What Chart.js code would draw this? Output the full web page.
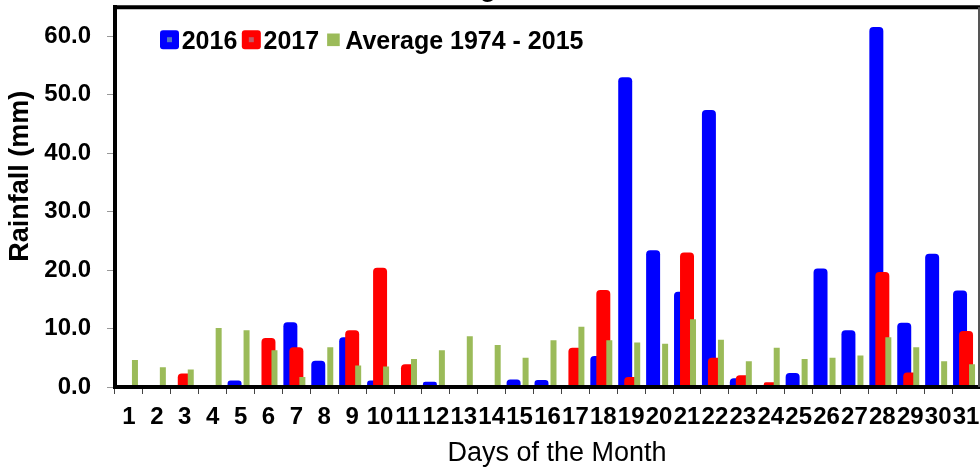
<!DOCTYPE html>
<html>
<head>
<meta charset="utf-8">
<script src="https://cdn.jsdelivr.net/npm/chart.js@4.4.1/dist/chart.umd.min.js"></script>
<style>
  html, body { margin: 0; padding: 0; background: #fff; }
  #frame { position: relative; width: 980px; height: 469px; overflow: hidden; }
  #box { position: absolute; left: 0; top: -26px; width: 980px; height: 495px; }
</style>
</head>
<body>
<div id="frame"><div id="box"><canvas id="chart"></canvas></div></div>
<script>
const days = ['1','2','3','4','5','6','7','8','9','10','11','12','13','14','15','16',
  '17','18','19','20','21','22','23','24','25','26','27','28','29','30','31'];

const rain2016 = [0, 0, 0, 0, 1.1, 0, 11.1, 4.5, 8.5, 1.1, 0, 0.9, 0, 0, 1.3, 1.2,
  0, 5.3, 53.0, 23.4, 16.3, 47.4, 1.5, 0, 2.4, 20.3, 9.7, 61.6, 11.0, 22.8, 16.5];

const rain2017 = [0, 0, 2.3, 0, 0, 8.4, 6.8, 0, 9.7, 20.4, 3.9, 0, 0, 0, 0, 0,
  6.7, 16.6, 1.7, 0, 23.0, 5.0, 2.0, 0.8, 0, 0, 0, 19.7, 2.5, 0, 9.6];

const rainAverage = [4.6, 3.4, 3.0, 10.1, 9.7, 6.3, 1.7, 6.8, 3.7, 3.5, 4.8, 6.3, 8.7, 7.2, 5.0, 8.0,
  10.3, 8.0, 7.6, 7.4, 11.6, 8.1, 4.4, 6.7, 4.8, 5.0, 5.4, 8.5, 6.8, 4.4, 3.9];

const FONT = "'Liberation Sans', Arial, sans-serif";
Chart.defaults.font.family = FONT;
Chart.defaults.color = '#000';

// draw datasets in index order so later ones sit on top
const drawOrder = {
  id: 'drawOrder',
  beforeDatasetsDraw(chart) {
    const ctx = chart.ctx, a = chart.chartArea;
    ctx.save();
    ctx.beginPath();
    ctx.rect(a.left, a.top, a.right - a.left, a.bottom - a.top);
    ctx.clip();
    chart.data.datasets.forEach((d, i) => chart.getDatasetMeta(i).controller.draw());
    ctx.restore();
    return false;
  }
};

const decorations = {
  id: 'decorations',
  afterDraw(chart) {
    const ctx = chart.ctx, a = chart.chartArea;
    ctx.save();
    // frame top / right
    ctx.strokeStyle = '#000';
    ctx.lineWidth = 4;
    ctx.beginPath();
    ctx.moveTo(a.left - 2, a.top);
    ctx.lineTo(a.right, a.top);
    ctx.stroke();
    ctx.strokeStyle = '#555';
    ctx.lineWidth = 2;
    ctx.beginPath();
    ctx.moveTo(a.right - 1, a.top);
    ctx.lineTo(a.right - 1, a.bottom);
    ctx.stroke();

    // axis titles
    ctx.fillStyle = '#000';
    ctx.textAlign = 'center';
    ctx.textBaseline = 'middle';
    ctx.font = '27px ' + FONT;
    ctx.fillText('Days of the Month', a.left + 442, a.bottom + 67);
    ctx.font = 'bold 27px ' + FONT;
    ctx.save();
    ctx.translate(21, a.top + 169);
    ctx.rotate(-Math.PI / 2);
    ctx.fillText('Rainfall (mm)', 0, 0);
    ctx.restore();

    // legend inside the plot
    ctx.font = 'bold 25px ' + FONT;
    ctx.textAlign = 'left';
    ctx.textBaseline = 'alphabetic';
    let x = a.left + 45;
    const top = a.top + 23;
    chart.data.datasets.forEach(ds => {
      ctx.fillStyle = ds.backgroundColor;
      if (ds.borderRadius) {
        ctx.beginPath();
        if (ctx.roundRect) ctx.roundRect(x, top, 19, 19, 3); else ctx.rect(x, top, 19, 19);
        ctx.fill();
        ctx.fillStyle = ds.legendDot;
        ctx.fillRect(x + 7, top + 7, 5, 5);
      } else {
        ctx.fillRect(x + 3.5, top + 3.3, 12.6, 12.6);
      }
      ctx.fillStyle = '#000';
      ctx.fillText(ds.label, x + 21.7, top + 18.5);
      x += 21.7 + ctx.measureText(ds.label).width + 4.5;
    });
    ctx.restore();
  }
};

new Chart(document.getElementById('chart'), {
  type: 'bar',
  data: {
    labels: days,
    datasets: [
      {
        label: '2016',
        data: rain2016,
        backgroundColor: '#0000ff',
        legendDot: '#5575c4',
        borderRadius: 4,
        categoryPercentage: 0.645,
        barPercentage: 2.33
      },
      {
        label: '2017',
        data: rain2017,
        backgroundColor: '#ff0000',
        legendDot: '#c45a66',
        borderRadius: 4,
        categoryPercentage: 0.645,
        barPercentage: 2.33
      },
      {
        label: 'Average 1974 - 2015',
        data: rainAverage,
        backgroundColor: '#9bbb59',
        borderRadius: 0,
        categoryPercentage: 0.645,
        barPercentage: 1
      }
    ]
  },
  options: {
    responsive: true,
    maintainAspectRatio: false,
    animation: false,
    events: [],
    layout: { padding: 0 },
    plugins: {
      legend: { display: false },
      tooltip: { enabled: false },
      title: {
        display: true,
        text: 'August',
        color: '#000',
        font: { size: 26, weight: 'bold' },
        padding: { top: 0, bottom: 2 }
      }
    },
    scales: {
      x: {
        grid: { drawOnChartArea: false, drawTicks: true, tickLength: 7, color: '#444', offset: true },
        border: { display: true, color: '#000', width: 4, z: 1 },
        ticks: { font: { size: 24, weight: 'bold' }, color: '#000', padding: 9, maxRotation: 0, autoSkip: false },
        afterFit(scale) {
          scale.height = 82;
          scale.paddingLeft = 0;
          scale.paddingRight = 0;
        }
      },
      y: {
        min: 0,
        max: 65,
        grid: { drawOnChartArea: false, tickLength: 8, color: '#999' },
        border: { display: true, color: '#000', width: 4, z: 1 },
        ticks: {
          stepSize: 10,
          includeBounds: false,
          padding: 16,
          color: '#000',
          font: { size: 24, weight: 'bold' },
          callback: v => v.toFixed(1)
        },
        afterFit(scale) {
          scale.width = 115;
          scale.paddingTop = 0;
          scale.paddingBottom = 0;
        }
      }
    }
  },
  plugins: [drawOrder, decorations]
});
</script>
</body>
</html>
